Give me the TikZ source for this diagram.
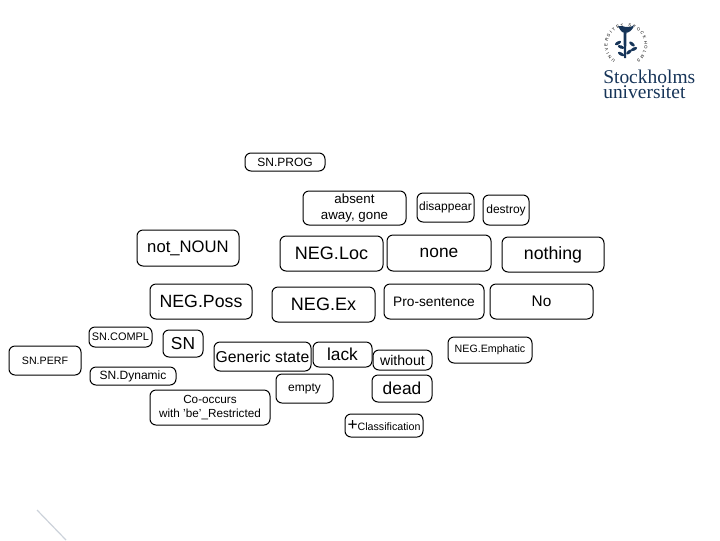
\documentclass[tikz,border=0pt]{standalone}
\usepackage{fontspec}
\setmainfont{Liberation Sans}
\newfontfamily\logofont{Liberation Serif}
\usetikzlibrary{decorations.text}
\definecolor{sunavy}{RGB}{22,52,88}
\newcommand{\fsz}[1]{\fontsize{#1}{#1}\selectfont}
\tikzset{
  tagbox/.style 2 args={draw=black,line width=0.75pt,rounded corners=4.5pt,inner sep=0pt,align=center,
    minimum width=#1*0.75pt,minimum height=#2*0.75pt},
  logotext/.style={anchor=north west,inner sep=0pt,align=left,text=sunavy,font=\logofont\fontsize{14.6}{11.25}\selectfont}
}
\begin{document}
\begin{tikzpicture}[x=0.75pt,y=0.75pt,yscale=-1,xscale=1]
\useasboundingbox (0,0) rectangle (720,540);

% Top row
\node [tagbox={80}{18},font=\fsz{9}] (snprog) at (285,162) {SN.PROG};
\node [tagbox={103}{34},font=\fontsize{10}{12.2}\selectfont] (absent) at (354.5,208) {absent\\away, gone};
\node [tagbox={57}{29},font=\fsz{9}] (disappear) at (445.5,207.5) {disappear};
\node [tagbox={46}{30},font=\fsz{9}] (destroy) at (506,210) {destroy};
% Second row
\node [tagbox={102}{36},font=\fsz{12.5}] (notnoun) at (188,248) {not\_NOUN};
\node [tagbox={103}{35},font=\fsz{13.5}] (negloc) at (331.5,253.5) {NEG.Loc};
\node [tagbox={104}{36},font=\fsz{13}] (none) at (439,253) {none};
\node [tagbox={102}{35},font=\fsz{13.3}] (nothing) at (553,254.5) {nothing};
% Third row
\node [tagbox={102}{35},font=\fsz{13.3}] (negposs) at (201,301.5) {NEG.Poss};
\node [tagbox={103}{35},font=\fsz{13.5}] (negex) at (323.5,304.5) {NEG.Ex};
\node [tagbox={100}{35},font=\fsz{10.3}] (prosentence) at (434,301.5) {Pro-sentence};
\node [tagbox={103}{35},font=\fsz{11.5}] (no) at (541.5,301.5) {No};
% Lower rows
\node [tagbox={63}{20},font=\fsz{8.2}] (sncompl) at (120.5,337) {SN.COMPL};
\node [tagbox={40}{27},font=\fsz{13}] (sn) at (183,343.5) {SN};
\node [tagbox={72}{29},font=\fsz{8}] (snperf) at (45,360.5) {SN.PERF};
\node [tagbox={86}{18},font=\fsz{9}] (sndynamic) at (133,376) {SN.Dynamic};
\node [tagbox={97}{29},font=\fsz{11.8}] (generic) at (262.5,356.5) {Generic state};
\node [tagbox={59}{25},font=\fsz{13}] (lack) at (342.5,354.5) {lack};
\node [tagbox={59}{20},font=\fsz{10.6}] (without) at (402.5,360) {without};
\node [tagbox={84}{26},font=\fsz{8}] (negemphatic) at (490,350) {NEG.Emphatic};
\node [tagbox={57}{29},font=\fsz{9}] (empty) at (304.5,388.5) {empty};
\node [tagbox={60}{27},font=\fsz{13}] (dead) at (402,388.5) {dead};
\node [tagbox={120}{35},font=\fontsize{8.8}{11}\selectfont] (cooccurs) at (210,407.5) {Co-occurs\\with 'be'\_Restricted};
\node [tagbox={78}{23},font=\fsz{8}] (classification) at (384,425.5) {{\fsz{13}+}Classification};

% Logo
\begin{scope}[sunavy]
\path [decorate,decoration={text along path,text align=fit to path,
    text={|\fsz{3.2}|UNIVERSITET STOCKHOLMS}}] (626,45) ++(125:18.5) arc (125:415:18.5);
\fill (622,26) .. controls (627,28) and (632,27) .. (634,25) .. controls (633,30) and (629,33) .. (625,33)
  .. controls (622,33) and (620,30) .. (618,26) -- cycle;
\fill (623.5,33) -- (626.5,33) -- (626,58) -- (624,58) -- cycle;
\foreach \lx/\ly/\lr in {618/43/-30,621/47/20,632/44/40,634/49/-25,629/52/-40,621/54/30}
  \fill [rotate around={\lr:(\lx,\ly)}] (\lx,\ly) ellipse (3.4 and 1.6);
\end{scope}
\node [logotext] (logo) at (603,70) {Stockholms\\universitet};

% Corner line
\coordinate (linea) at (37,510);
\coordinate (lineb) at (66,540);
\draw [color=sunavy!22!white,line width=0.9pt] (linea) -- (lineb);
\end{tikzpicture}
\end{document}
